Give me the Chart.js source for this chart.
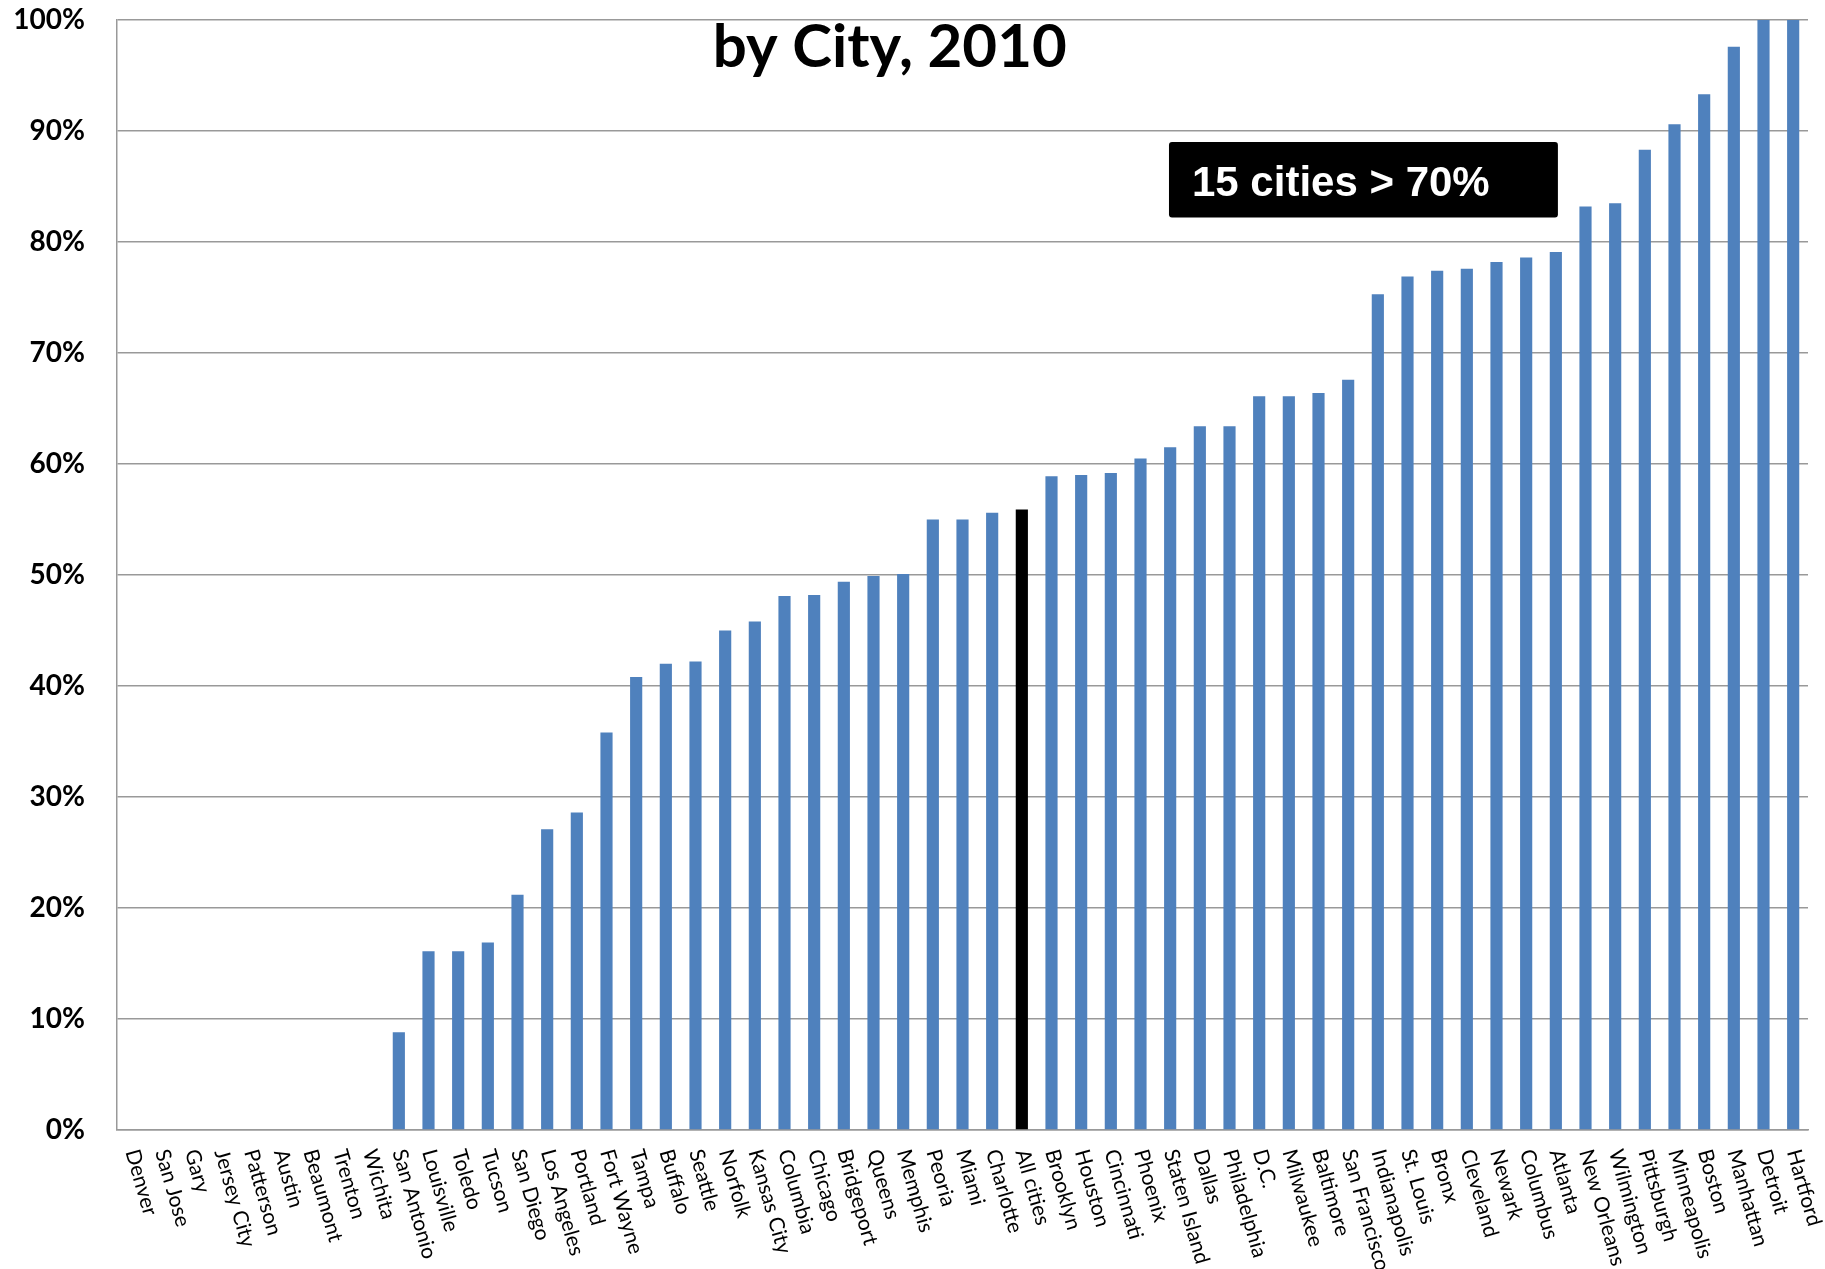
<!DOCTYPE html>
<html>
<head>
<meta charset="utf-8">
<script src="https://cdn.jsdelivr.net/npm/chart.js@4/dist/chart.umd.min.js"></script>
<style>
html, body { margin: 0; padding: 0; background: #fff; }
</style>
</head>
<body>
<canvas id="chart" width="1825" height="1269"></canvas>
<script>
// categories, left to right
const cities = [
    "Denver", "San Jose", "Gary", "Jersey City", "Patterson", "Austin", "Beaumont", "Trenton",
    "Wichita", "San Antonio", "Louisville", "Toledo", "Tucson", "San Diego", "Los Angeles",
    "Portland", "Fort Wayne", "Tampa", "Buffalo", "Seattle", "Norfolk", "Kansas City",
    "Columbia", "Chicago", "Bridgeport", "Queens", "Memphis", "Peoria", "Miami", "Charlotte",
    "All cities", "Brooklyn", "Houston", "Cincinnati", "Phoenix", "Staten Island", "Dallas",
    "Philadelphia", "D.C.", "Milwaukee", "Baltimore", "San Francisco", "Indianapolis",
    "St. Louis", "Bronx", "Cleveland", "Newark", "Columbus", "Atlanta", "New Orleans",
    "Wilmington", "Pittsburgh", "Minneapolis", "Boston", "Manhattan", "Detroit", "Hartford"
];

// percent
const shares = [
    0, 0, 0, 0, 0, 0, 0, 0,
    0, 8.8, 16.1, 16.1, 16.9, 21.2, 27.1,
    28.6, 35.8, 40.8, 42.0, 42.2, 45.0, 45.8,
    48.1, 48.2, 49.4, 49.9, 50.1, 55.0, 55.0, 55.6,
    55.9, 58.9, 59.0, 59.2, 60.5, 61.5, 63.4,
    63.4, 66.1, 66.1, 66.4, 67.6, 75.3,
    76.9, 77.4, 77.6, 78.2, 78.6, 79.1, 83.2,
    83.5, 88.3, 90.6, 93.3, 97.6, 100, 100
];

const yTicks = [0, 10, 20, 30, 40, 50, 60, 70, 80, 90, 100];
const highlightCity = "All cities";
const chartTitle = "by City, 2010";
const noteText = "15 cities > 70%";

const barColors = cities.map(c => c === highlightCity ? "#000000" : "#4f81bd");

const cityLabels = {
    id: "cityLabels",
    afterDraw(chart) {
        let ctx = chart.ctx;
        let xScale = chart.scales.x;
        let bottom = chart.chartArea.bottom;
        ctx.save();
        ctx.font = "21px Lato";
        ctx.fillStyle = "#000";
        ctx.textAlign = "left";
        ctx.textBaseline = "middle";
        cities.forEach((c, i) => {
            ctx.save();
            ctx.translate(xScale.getPixelForValue(i), bottom + 20);
            ctx.rotate(74 * Math.PI / 180);
            ctx.fillText(c, 0, 0);
            ctx.restore();
        });
        ctx.restore();
    }
};

const notes = {
    id: "notes",
    afterDraw(chart) {
        let ctx = chart.ctx;
        let xs = chart.scales.x;
        let ys = chart.scales.y;
        ctx.save();

        // title line that sits inside the plot
        ctx.font = "bold 60px Lato";
        ctx.fillStyle = "#000";
        ctx.textAlign = "center";
        ctx.textBaseline = "alphabetic";
        ctx.fillText(chartTitle, xs.getPixelForValue(25.55), chart.chartArea.top + 47);

        // black callout box
        let left = xs.getPixelForValue(34.96);
        let right = xs.getPixelForValue(48.07);
        let top = ys.getPixelForValue(89.0);
        let bot = ys.getPixelForValue(82.2);
        ctx.fillStyle = "#000";
        ctx.beginPath();
        ctx.roundRect(left, top, right - left, bot - top, 3);
        ctx.fill();
        ctx.font = "bold 42px 'Liberation Sans'";
        ctx.fillStyle = "#fff";
        ctx.textAlign = "left";
        ctx.fillText(noteText, left + 23, top + 54);
        ctx.restore();
    }
};

new Chart(document.getElementById("chart").getContext("2d"), {
    type: "bar",
    data: {
        labels: cities,
        datasets: [{
            data: shares,
            backgroundColor: barColors,
            borderWidth: 0,
            categoryPercentage: 1,
            barPercentage: 0.41
        }]
    },
    options: {
        responsive: false,
        animation: false,
        layout: { padding: { top: 20, right: 17, left: 0, bottom: 0 } },
        plugins: {
            legend: { display: false },
            tooltip: { enabled: false }
        },
        scales: {
            x: {
                grid: { display: false },
                border: { display: true, color: "#999", width: 1.5 },
                ticks: { display: false },
                afterFit: s => { s.height = 139; s.paddingLeft = 0; s.paddingRight = 0; }
            },
            y: {
                min: 0,
                max: 100,
                afterBuildTicks: s => { s.ticks = yTicks.map(v => ({ value: v })); },
                grid: { color: "#999", lineWidth: 1.5, drawTicks: false },
                border: { display: true, color: "#999", width: 1.5 },
                ticks: {
                    padding: 32,
                    color: "#000",
                    font: { family: "Lato", weight: "bold", size: 28 },
                    callback: v => v + "%"
                },
                afterFit: s => { s.width = 117; s.paddingTop = 0; s.paddingBottom = 0; }
            }
        }
    },
    plugins: [cityLabels, notes]
});
</script>
</body>
</html>
